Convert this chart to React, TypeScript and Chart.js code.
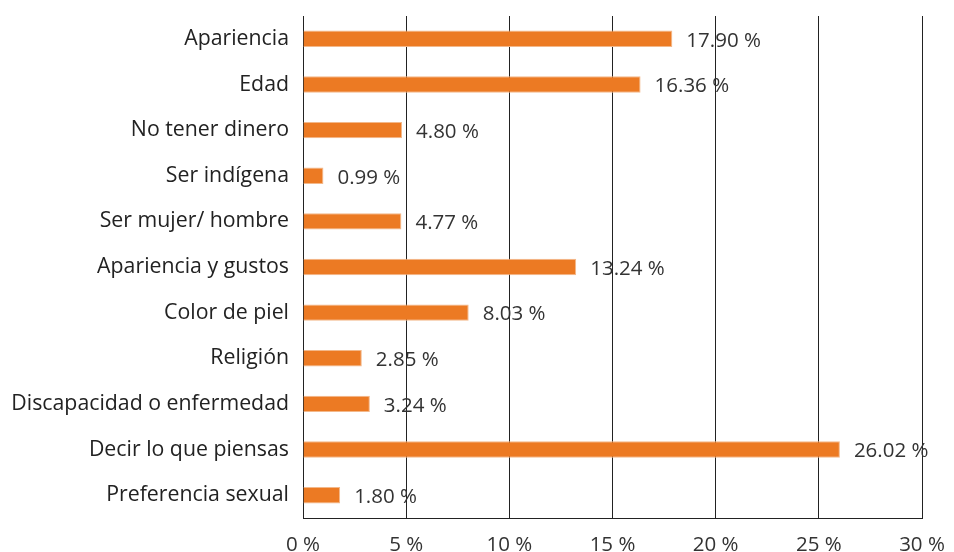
import React, { useEffect, useRef } from "react";
import { Chart, registerables } from "chart.js";

Chart.register(...registerables);

const categories = [
  "Apariencia",
  "Edad",
  "No tener dinero",
  "Ser indígena",
  "Ser mujer/ hombre",
  "Apariencia y gustos",
  "Color de piel",
  "Religión",
  "Discapacidad o enfermedad",
  "Decir lo que piensas",
  "Preferencia sexual",
];

const values = [17.9, 16.36, 4.8, 0.99, 4.77, 13.24, 8.03, 2.85, 3.24, 26.02, 1.8];

const FONT = "'Open Sans', 'Noto Sans', sans-serif";
const BAR_COLOR = "#ec7a23";
const TEXT_COLOR = "#333333";

const valueLabels = {
  id: "valueLabels",
  afterDatasetsDraw(chart: any) {
    const { ctx } = chart;
    const meta = chart.getDatasetMeta(0);
    ctx.save();
    ctx.font = `20.5px ${FONT}`;
    ctx.fillStyle = TEXT_COLOR;
    ctx.textAlign = "left";
    ctx.textBaseline = "middle";
    meta.data.forEach((bar: any, i: number) => {
      const v = values[i];
      ctx.fillText(`${v.toFixed(2)} %`, bar.x + 14, bar.y + 2);
    });
    ctx.restore();
  },
};

export default function App() {
  const ref = useRef<HTMLCanvasElement | null>(null);

  useEffect(() => {
    document.body.style.margin = "0";
    const canvas = ref.current;
    if (!canvas) return;
    const chart = new Chart(canvas, {
      type: "bar",
      data: {
        labels: categories,
        datasets: [
          {
            data: values,
            backgroundColor: BAR_COLOR,
            borderColor: "#f3b88a",
            borderWidth: 1,
            borderSkipped: "left",
            barPercentage: 0.36,
            categoryPercentage: 1,
          },
        ],
      },
      options: {
        indexAxis: "y",
        animation: false,
        responsive: false,
        maintainAspectRatio: false,
        layout: { padding: { top: 16, right: 32, left: 0, bottom: 0 } },
        plugins: {
          legend: { display: false },
          tooltip: { enabled: false },
        },
        scales: {
          x: {
            min: 0,
            max: 30,
            ticks: {
              stepSize: 5,
              color: TEXT_COLOR,
              font: { family: FONT, size: 20.5 },
              padding: 15,
              callback: (v: any) => `${v} %`,
            },
            grid: {
              color: "#222222",
              lineWidth: 1,
              drawTicks: false,
            },
            border: { display: true, color: "#222222", width: 1 },
            afterFit: (scale: any) => {
              scale.height = 552 - 518;
              scale.paddingLeft = 0;
              scale.paddingRight = 0;
              scale.paddingTop = 0;
              scale.paddingBottom = 0;
            },
          },
          y: {
            ticks: {
              color: "#222222",
              font: { family: FONT, size: 21.3 },
              padding: 14,
            },
            grid: { display: false, drawTicks: false },
            border: { display: true, color: "#222222", width: 1 },
            afterFit: (scale: any) => {
              scale.width = 303;
              scale.paddingLeft = 0;
              scale.paddingRight = 0;
              scale.paddingTop = 0;
              scale.paddingBottom = 0;
            },
          },
        },
      },
      plugins: [valueLabels],
    });
    return () => chart.destroy();
  }, []);

  return (
    <div style={{ width: 954, height: 552 }}>
      <canvas ref={ref} width={954} height={552} style={{ display: "block" }} />
    </div>
  );
}
